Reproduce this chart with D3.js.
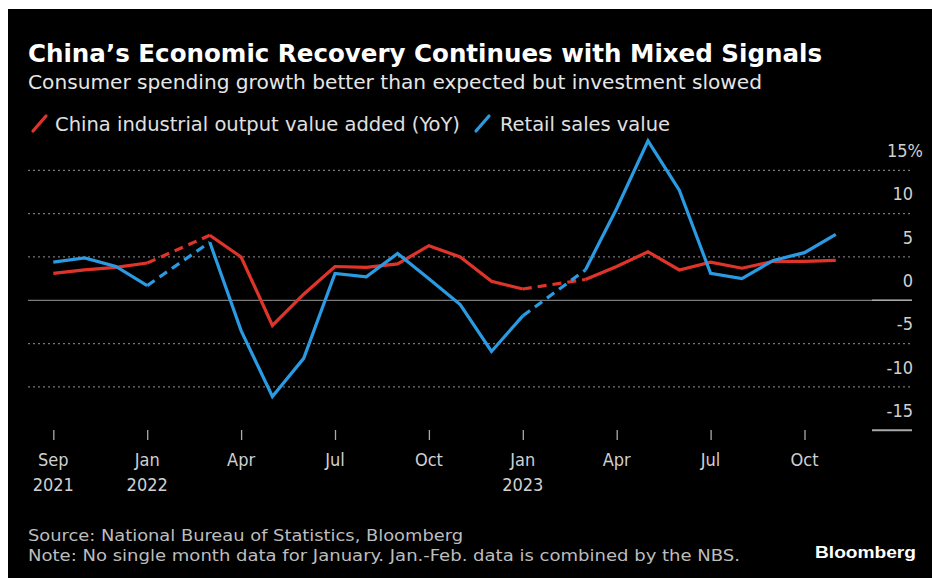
<!DOCTYPE html>
<html>
<head>
<meta charset="utf-8">
<script src="https://cdn.jsdelivr.net/npm/d3@7"></script>
<style>
  html, body { margin: 0; padding: 0; background: #fff; }
  svg { display: block; }
  text { font-family: "DejaVu Sans Condensed", "Liberation Sans Narrow", "DejaVu Sans", sans-serif; }
</style>
</head>
<body>
<svg id="chart" width="932" height="578"></svg>
<script>
// ---- Data ----
const months = ["2021-09","2021-10","2021-11","2021-12","2022-01","2022-02","2022-03","2022-04","2022-05","2022-06","2022-07","2022-08","2022-09","2022-10","2022-11","2022-12","2023-01","2023-02","2023-03","2023-04","2023-05","2023-06","2023-07","2023-08","2023-09","2023-10"];
const industrialOutput = [3.1, 3.5, 3.8, 4.3, null, 7.5, 5.0, -2.9, 0.7, 3.9, 3.8, 4.2, 6.3, 5.0, 2.2, 1.3, null, 2.4, 3.9, 5.6, 3.5, 4.4, 3.7, 4.5, 4.5, 4.6];
const retailSales = [4.4, 4.9, 3.9, 1.7, null, 6.7, -3.5, -11.1, -6.7, 3.1, 2.7, 5.4, 2.5, -0.5, -5.9, -1.8, null, 3.5, 10.6, 18.4, 12.7, 3.1, 2.5, 4.6, 5.5, 7.6];
const seriesNames = ["China industrial output value added (YoY)", "Retail sales value"];
const yTicks = [15, 10, 5, 0, -5, -10, -15];
const xTickMonths = ["2021-09","2021-12","2022-03","2022-06","2022-09","2022-12","2023-03","2023-06","2023-09"];
const xTickLabels = [["Sep","2021"],["Jan","2022"],["Apr",""],["Jul",""],["Oct",""],["Jan","2023"],["Apr",""],["Jul",""],["Oct",""]];
const title = "China\u2019s Economic Recovery Continues with Mixed Signals";
const subtitle = "Consumer spending growth better than expected but investment slowed";
const sourceText = "Source: National Bureau of Statistics, Bloomberg";
const noteText = "Note: No single month data for January. Jan.-Feb. data is combined by the NBS.";

// ---- Layout ----
const svg = d3.select("#chart");
const RED = "#e0342b", BLUE = "#2a9be3";

svg.append("rect").attr("x", 8).attr("y", 9).attr("width", 924).attr("height", 569).attr("fill", "#000");

function fit(sel, w) {
  const n = sel.node();
  const len = n.getComputedTextLength();
  if (Math.abs(len - w) / w > 0.015) {
    sel.attr("textLength", w).attr("lengthAdjust", "spacingAndGlyphs");
  }
  return sel;
}

const x = d3.scalePoint().domain(months).range([53.3, 835.8]);
const y = d3.scaleLinear().domain([-15, 15]).range([430.3, 170.3]);

// Titles
fit(svg.append("text").attr("x", 28).attr("y", 62).attr("fill", "#fff")
  .attr("font-size", 25).attr("font-weight", "bold").text(title), 794);
fit(svg.append("text").attr("x", 28).attr("y", 89).attr("fill", "#e6e6e6")
  .attr("font-size", 20).text(subtitle), 734);

// Legend
const legend = [
  {name: seriesNames[0], color: RED, mx: 33, tx: 55, w: 405},
  {name: seriesNames[1], color: BLUE, mx: 476, tx: 500, w: 170}
];
legend.forEach(l => {
  svg.append("line").attr("x1", l.mx).attr("y1", 131).attr("x2", l.mx + 13).attr("y2", 116)
    .attr("stroke", l.color).attr("stroke-width", 3.2).attr("stroke-linecap", "round");
  fit(svg.append("text").attr("x", l.tx).attr("y", 131).attr("fill", "#e0e0e0")
    .attr("font-size", 19).text(l.name), l.w);
});

// Gridlines
const plotLeft = 28, plotRight = 912;
yTicks.forEach(v => {
  if (v === 0) {
    svg.append("line").attr("x1", plotLeft).attr("x2", plotRight).attr("y1", y(v)).attr("y2", y(v))
      .attr("stroke", "#7a7a7a").attr("stroke-width", 1.3);
    svg.append("line").attr("x1", 872).attr("x2", plotRight).attr("y1", y(v)).attr("y2", y(v))
      .attr("stroke", "#a8a8a8").attr("stroke-width", 1.5);
  } else if (v === -15) {
    svg.append("line").attr("x1", 872).attr("x2", plotRight).attr("y1", y(v)).attr("y2", y(v))
      .attr("stroke", "#a8a8a8").attr("stroke-width", 2);
  } else {
    svg.append("line").attr("x1", plotLeft).attr("x2", plotRight).attr("y1", y(v)).attr("y2", y(v))
      .attr("stroke", "#777").attr("stroke-width", 1.2).attr("stroke-dasharray", "2,3");
  }
});

// Y axis labels
const yAxis = d3.axisRight(y).tickValues(yTicks).tickSize(0).tickFormat(d => d === 15 ? "15%" : d);
const yg = svg.append("g").attr("transform", "translate(913,-20)").call(yAxis);
yg.select(".domain").remove();
yg.selectAll("text").attr("x", d => d === 15 ? 10 : 0).attr("text-anchor", "end").attr("fill", "#d0d0d0")
  .attr("font-size", 18).attr("dy", "0.35em")
  .style("font-family", "\"DejaVu Sans Condensed\", \"Liberation Sans Narrow\", \"DejaVu Sans\", sans-serif");

// X axis
const xAxis = d3.axisBottom(x).tickValues(xTickMonths).tickSize(10).tickFormat("");
const xg = svg.append("g").attr("transform", "translate(0,430)").call(xAxis);
xg.select(".domain").remove();
xg.selectAll(".tick line").attr("stroke", "#aaa").attr("stroke-width", 1.3).attr("y1", 0);
xTickMonths.forEach((m, i) => {
  svg.append("text").attr("x", x(m)).attr("y", 466).attr("text-anchor", "middle")
    .attr("fill", "#d0d0d0").attr("font-size", 18).text(xTickLabels[i][0]);
  if (xTickLabels[i][1]) {
    svg.append("text").attr("x", x(m)).attr("y", 491).attr("text-anchor", "middle")
      .attr("fill", "#d0d0d0").attr("font-size", 18).text(xTickLabels[i][1]);
  }
});

// Lines
function drawSeries(vals, color) {
  const pts = months.map((m, i) => ({m, v: vals[i]}));
  const solid = d3.line().defined(d => d.v !== null).x(d => x(d.m)).y(d => y(d.v));
  // dashed connectors across gaps
  pts.forEach((d, i) => {
    if (d.v === null) {
      const a = pts[i - 1], b = pts[i + 1];
      svg.append("path").attr("d", d3.line().x(p => x(p.m)).y(p => y(p.v))([a, b]))
        .attr("fill", "none").attr("stroke", color).attr("stroke-width", 3.2)
        .attr("stroke-dasharray", "9,6");
    }
  });
  svg.append("path").datum(pts).attr("d", solid)
    .attr("fill", "none").attr("stroke", color).attr("stroke-width", 3.2)
    .attr("stroke-linejoin", "miter");
}
drawSeries(industrialOutput, RED);
drawSeries(retailSales, BLUE);

// Footer
fit(svg.append("text").attr("x", 28).attr("y", 541).attr("fill", "#bdbdbd")
  .attr("font-size", 16).text(sourceText), 435);
fit(svg.append("text").attr("x", 28).attr("y", 561).attr("fill", "#bdbdbd")
  .attr("font-size", 16).text(noteText), 712);
fit(svg.append("text").attr("x", 916).attr("y", 558).attr("text-anchor", "end").attr("fill", "#fff")
  .attr("font-size", 17).attr("font-weight", "bold")
  .style("font-family", "\"Liberation Sans\", Arial, sans-serif").text("Bloomberg"), 101);
</script>
</body>
</html>
